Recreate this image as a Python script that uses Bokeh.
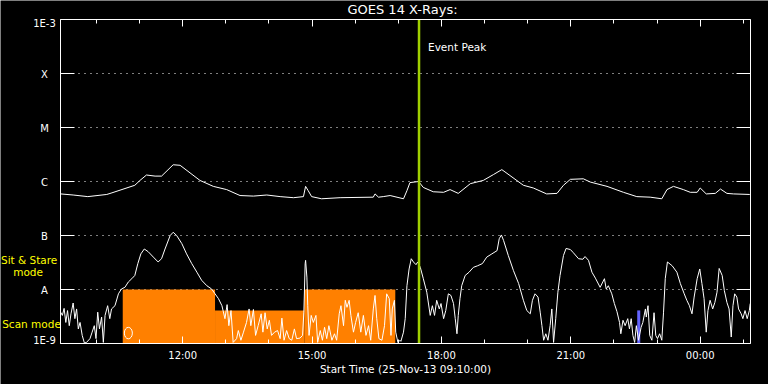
from bokeh.plotting import figure
from bokeh.models import Range1d, LogAxis, LinearAxis, FixedTicker, Label
from bokeh.core.properties import value
from bokeh.embed import file_html
from bokeh.resources import INLINE

# ---------------- data ----------------
start_hour = 9 + 10 / 60          # 25-Nov-13 09:10:00
end_hour = start_hour + 16

# long channel (1-8 A), hours of day and log10 flux (W/m^2)
long_hours = [9.17, 9.46, 9.80, 10.24, 10.36, 10.89, 11.01, 11.16, 11.36, 11.51,
              11.78, 11.94, 12.40, 12.71, 13.02, 13.33, 13.64, 13.95, 14.26, 14.57,
              14.80, 14.85, 14.91, 14.99, 15.22, 15.65, 16.42, 16.46, 16.54, 16.65,
              16.81, 17.12, 17.20, 17.27, 17.47, 17.58, 17.81, 18.05, 18.20, 18.39,
              18.67, 18.97, 19.21, 19.40, 19.59, 19.90, 20.13, 20.44, 20.68, 20.83,
              20.99, 21.29, 21.45, 21.84, 22.22, 22.53, 22.84, 23.11, 23.23, 23.38,
              23.61, 23.77, 23.93, 24.00, 24.14, 24.35, 24.47, 24.62, 24.77, 25.15]
long_log_flux = [-6.23, -6.25, -6.28, -6.24, -6.21, -6.07, -5.98, -5.88, -5.90, -5.90,
                 -5.69, -5.70, -5.98, -6.09, -6.15, -6.26, -6.27, -6.25, -6.28, -6.30,
                 -6.28, -6.09, -6.17, -6.28, -6.32, -6.30, -6.29, -6.23, -6.29, -6.28,
                 -6.26, -6.32, -6.17, -6.02, -6.00, -6.11, -6.19, -6.20, -6.15, -6.22,
                 -6.04, -5.98, -5.87, -5.78, -5.89, -6.07, -6.12, -6.23, -6.22, -6.07,
                 -5.96, -5.95, -6.01, -6.09, -6.20, -6.28, -6.29, -6.32, -6.15, -6.09,
                 -6.15, -6.20, -6.20, -6.12, -6.23, -6.22, -6.14, -6.22, -6.23, -6.24]

# short channel (0.5-4 A)
short_hours_a = [9.17, 9.21, 9.25, 9.29, 9.33, 9.37, 9.41, 9.46, 9.50, 9.54,
                 9.58, 9.62, 9.67, 9.72, 9.77, 9.85, 9.90, 9.95, 9.99, 10.03,
                 10.07, 10.12, 10.16, 10.20, 10.26, 10.31, 10.35, 10.43, 10.51, 10.58,
                 10.66, 10.74, 10.82, 10.89, 10.96, 11.03, 11.11, 11.20, 11.32, 11.43,
                 11.51, 11.59, 11.71, 11.78, 11.86, 11.98, 12.09, 12.21, 12.33, 12.44,
                 12.56, 12.67, 12.75, 12.83, 12.91, 12.98]
short_log_a = [-8.42, -8.48, -8.35, -8.61, -8.39, -8.67, -8.45, -8.25, -8.54, -8.36,
               -8.73, -8.61, -8.85, -8.99, -8.98, -8.91, -8.79, -8.67, -8.91, -8.42,
               -8.73, -8.51, -8.98, -8.48, -8.30, -8.54, -8.36, -8.30, -8.08, -7.99,
               -7.96, -7.86, -7.80, -7.74, -7.52, -7.34, -7.25, -7.30, -7.40, -7.49,
               -7.43, -7.25, -7.00, -6.94, -7.00, -7.15, -7.34, -7.52, -7.68, -7.83,
               -7.93, -7.99, -8.08, -8.17, -8.30, -8.54]
short_hours_b = [13.03, 13.07, 13.12, 13.17, 13.25, 13.29, 13.35, 13.41, 13.48, 13.54,
                 13.58, 13.64, 13.69, 13.75, 13.82, 13.86, 13.91, 13.96, 14.01, 14.06,
                 14.13, 14.20, 14.26, 14.30, 14.35, 14.41, 14.47, 14.53, 14.59, 14.64,
                 14.72, 14.78, 14.81, 14.84, 14.85, 14.88, 14.90, 14.93, 14.98, 15.03,
                 15.09, 15.13, 15.19, 15.24, 15.29, 15.34, 15.39, 15.46, 15.52, 15.57,
                 15.63, 15.67, 15.73, 15.77, 15.81, 15.86, 15.90, 15.96, 16.01, 16.07,
                 16.13, 16.19, 16.25, 16.31, 16.36, 16.42, 16.46, 16.50, 16.55, 16.62,
                 16.68, 16.73, 16.79, 16.83, 16.86, 16.91, 16.94, 16.99, 17.04]
short_log_b = [-8.28, -8.67, -8.39, -8.98, -8.91, -8.76, -8.94, -8.79, -8.61, -8.36,
               -8.67, -8.37, -8.85, -8.67, -8.45, -8.79, -8.43, -8.73, -8.57, -8.85,
               -8.79, -8.76, -8.91, -8.53, -8.94, -8.76, -8.91, -8.94, -8.73, -8.91,
               -8.90, -8.85, -8.42, -7.52, -7.46, -7.77, -8.30, -8.85, -8.48, -8.61,
               -8.48, -8.98, -8.76, -8.94, -8.70, -8.91, -8.67, -8.94, -8.82, -8.94,
               -8.45, -8.30, -8.67, -8.20, -8.33, -8.20, -8.48, -8.79, -8.61, -8.43,
               -8.79, -8.48, -8.85, -8.67, -8.94, -8.36, -8.11, -8.54, -8.91, -8.94,
               -8.67, -8.08, -8.17, -8.85, -8.36, -8.20, -8.79, -8.98, -8.94]
short_hours_c = [17.06, 17.12, 17.16, 17.20, 17.25, 17.30, 17.35, 17.41, 17.45, 17.51,
                 17.58, 17.66, 17.74, 17.79, 17.84, 17.89, 17.95, 17.99, 18.05, 18.10,
                 18.16, 18.22, 18.28, 18.32, 18.36, 18.39, 18.43, 18.47, 18.55, 18.64,
                 18.74, 18.84, 18.95, 19.05, 19.17, 19.29, 19.34, 19.39, 19.44, 19.55,
                 19.67, 19.79, 19.90, 19.98, 20.06, 20.11, 20.17, 20.24, 20.29, 20.33,
                 20.37, 20.42, 20.47, 20.52, 20.56, 20.60, 20.65, 20.70, 20.75, 20.83,
                 20.89, 20.99]
short_log_c = [-8.96, -8.79, -8.54, -7.93, -7.62, -7.43, -7.49, -7.54, -7.49, -7.59,
               -7.80, -8.05, -8.48, -8.30, -8.48, -8.20, -8.36, -8.26, -8.54, -8.39,
               -8.08, -8.11, -8.26, -8.54, -8.82, -8.48, -8.17, -7.93, -7.74, -7.68,
               -7.59, -7.56, -7.52, -7.40, -7.34, -7.28, -7.06, -6.99, -7.09, -7.37,
               -7.65, -7.89, -8.20, -8.39, -8.45, -8.20, -8.08, -8.14, -8.42, -8.67,
               -8.94, -8.82, -8.94, -8.67, -8.36, -8.98, -8.54, -8.05, -7.74, -7.37,
               -7.24, -7.26]
short_hours_d = [21.06, 21.18, 21.28, 21.33, 21.41, 21.49, 21.57, 21.68, 21.78, 21.82,
                 21.87, 21.95, 22.01, 22.07, 22.13, 22.16, 22.21, 22.26, 22.32, 22.36,
                 22.40, 22.44, 22.48, 22.52, 22.57, 22.63, 22.67, 22.73, 22.75, 22.79,
                 22.83, 22.88, 22.93, 22.97, 23.01, 23.06, 23.11, 23.15, 23.19, 23.24,
                 23.35, 23.46, 23.54, 23.63, 23.69, 23.75, 23.81, 23.86, 23.93, 23.99,
                 24.04, 24.09, 24.14, 24.18, 24.23, 24.29, 24.34, 24.39, 24.44, 24.51,
                 24.56, 24.62, 24.67, 24.72, 24.76, 24.80, 24.85, 24.89, 24.95, 24.99,
                 25.04, 25.09, 25.14, 25.16]
short_log_d = [-7.32, -7.43, -7.44, -7.39, -7.46, -7.68, -7.79, -7.96, -7.80, -7.99,
               -7.93, -8.08, -8.26, -8.41, -8.61, -8.82, -8.57, -8.67, -8.54, -8.73,
               -8.54, -8.85, -8.98, -8.67, -8.94, -8.70, -8.61, -8.36, -8.51, -8.30,
               -8.85, -8.94, -8.43, -8.85, -8.91, -8.82, -8.94, -8.42, -7.80, -7.49,
               -7.56, -7.68, -7.89, -8.08, -8.20, -8.30, -8.45, -8.14, -7.80, -7.62,
               -7.89, -8.17, -8.79, -8.39, -8.20, -8.36, -8.24, -8.05, -7.61, -7.74,
               -8.02, -8.24, -8.36, -8.88, -8.30, -8.08, -8.14, -8.36, -8.45, -8.54,
               -8.39, -8.54, -8.39, -8.26]

# instrument mode periods (orange) and the blue marker
mode_start = [10.61, 12.75, 14.82]
mode_end = [12.75, 14.82, 16.93]
mode_level = [1e-8, 4.1e-9, 1e-8]
blue_start = [22.54]
blue_end = [22.61]
blue_level = [4.1e-9]
marker_hour = [10.74]
marker_flux = [1.56e-9]
event_peak_hour = 17.48

ytick_values = [1e-9, 1e-8, 1e-7, 1e-6, 1e-5, 1e-4, 1e-3]
ytick_labels = ["1E-9", "A", "B", "C", "M", "X", "1E-3"]
xtick_values = [12, 15, 18, 21, 24]
xtick_labels = ["12:00", "15:00", "18:00", "21:00", "00:00"]
xminor_values = [10, 11, 13, 14, 16, 17, 19, 20, 22, 23, 25]
mode_names = ["Sit & Stare", "mode", "Scan mode"]

title_text = "GOES 14 X-Rays:"
xlabel_text = "Start Time (25-Nov-13 09:10:00)"

# ---------------- layout constants ----------------
FONT = "DejaVu Sans"
W, H = 768, 384
LEFT, RIGHT, TOP, BOTTOM = 60, 18, 19, 41
y_lo, y_hi = 1e-9, 1e-3
px_per_hour = (W - LEFT - RIGHT) / (end_hour - start_hour)
px_per_decade = (H - TOP - BOTTOM) / 6.0
mid_hour = (start_hour + end_hour) / 2

# The frame covers the whole canvas so that the margin texts are drawn inside
# it; the plot box is drawn by four axes at fixed locations.
p = figure(width=W, height=H, output_backend="svg", toolbar_location=None,
           x_range=Range1d(start_hour - LEFT / px_per_hour, end_hour + RIGHT / px_per_hour),
           y_range=Range1d(y_lo / 10 ** (BOTTOM / px_per_decade),
                           y_hi * 10 ** (TOP / px_per_decade)),
           y_axis_type="log", min_border=0,
           background_fill_color="black", border_fill_color="black",
           outline_line_color=None)
p.title.visible = False

xticker = FixedTicker(ticks=xtick_values, minor_ticks=xminor_values)
yticker = FixedTicker(ticks=ytick_values, minor_ticks=[])


def style_axis(ax, ticker, tick_len, minor_len, values, labels=None):
    ax.ticker = ticker
    ax.axis_line_color = "white"
    ax.major_tick_line_color = "white"
    ax.minor_tick_line_color = "white"
    ax.major_tick_out = 0
    ax.minor_tick_out = 0
    ax.major_tick_in = tick_len
    ax.minor_tick_in = minor_len
    ax.major_label_text_color = "white"
    ax.major_label_text_font = FONT
    ax.major_label_text_font_size = "10px"
    if labels is None:
        ax.major_label_overrides = {v: "" for v in values}
        ax.major_label_standoff = 0
    else:
        ax.major_label_overrides = dict(zip(values, labels))


xb = p.xaxis[0]
style_axis(xb, xticker, 7, 4, xtick_values, xtick_labels)
xb.bounds = (start_hour, end_hour)
xb.fixed_location = y_lo
xb.major_label_standoff = 6

yl = p.yaxis[0]
style_axis(yl, yticker, 14, 0, ytick_values)
yl.bounds = (y_lo, y_hi)
yl.fixed_location = start_hour

xt = LinearAxis()
style_axis(xt, xticker, 7, 4, xtick_values)
xt.bounds = (start_hour, end_hour)
xt.fixed_location = y_hi
p.add_layout(xt, "above")

yr = LogAxis()
style_axis(yr, yticker, 14, 0, ytick_values)
yr.bounds = (y_lo, y_hi)
yr.fixed_location = end_hour
p.add_layout(yr, "right")

p.xgrid.visible = False
p.ygrid.ticker = yticker
p.ygrid.grid_line_color = "white"
p.ygrid.grid_line_dash = "1 5"
p.ygrid.grid_line_width = 1
try:
    p.ygrid.cross_bounds = (start_hour, end_hour)
except Exception:
    p.ygrid.visible = False
    p.segment(x0=[start_hour] * len(ytick_values), x1=[end_hour] * len(ytick_values),
              y0=ytick_values, y1=ytick_values, line_color="white", line_dash="1 5",
              line_width=1)

# mode shading
p.quad(left=mode_start, right=mode_end, bottom=[y_lo] * len(mode_start), top=mode_level,
       fill_color="#ff8000", line_color=None)
p.quad(left=blue_start, right=blue_end, bottom=[y_lo], top=blue_level,
       fill_color="#6464ff", line_color=None)
p.ellipse(x=marker_hour, y=marker_flux, width=8, height=11.5, width_units="screen",
          height_units="screen", fill_alpha=0, line_color="white", line_width=1)

long_flux = [10 ** v for v in long_log_flux]
short_hours = short_hours_a + short_hours_b + short_hours_c + short_hours_d
short_flux = [10 ** v for v in short_log_a + short_log_b + short_log_c + short_log_d]

p.line(long_hours, long_flux, line_color="white", line_width=1)
p.line(short_hours, short_flux, line_color="white", line_width=1)

# event peak marker
p.segment(x0=[event_peak_hour], x1=[event_peak_hour], y0=[y_lo], y1=[y_hi],
          line_color="#a0d000", line_width=2.5)
p.add_layout(Label(x=event_peak_hour, y=y_hi, x_offset=9, y_offset=-27.7, text="Event Peak",
                   text_color="white", text_font=FONT, text_font_size="10.5px",
                   text_baseline="alphabetic"))

# title and x-axis caption
p.add_layout(Label(x=mid_hour, y=y_hi, x_offset=-3, y_offset=9.7, text=title_text,
                   text_color="white", text_font=FONT, text_font_size="13px",
                   text_align="center", text_baseline="middle"))
p.add_layout(Label(x=mid_hour, y=y_lo, y_offset=-25, text=xlabel_text,
                   text_color="white", text_font=FONT, text_font_size="10.5px",
                   text_align="center", text_baseline="middle"))

# ---------------- margin texts (tick names and mode names) ----------------
label_dy = {"1E-3": 3.5, "1E-9": -3.3}
p.text(x=[start_hour] * len(ytick_values), y=ytick_values, text=ytick_labels,
       x_offset=-16, y_offset=[label_dy.get(t, 1) for t in ytick_labels],
       text_color="white", text_font=value(FONT), text_font_size="10px",
       text_align="center", text_baseline="middle")

p.text(x=[start_hour] * 3, y=[y_lo * 10, y_lo * 10, y_lo], text=mode_names,
       x_offset=[-59.5, -47.3, -58.3], y_offset=[-30, -18, -19.5],
       text_color="#ffff00", text_font=value(FONT), text_font_size="10.5px",
       text_align="left", text_baseline="middle")

open("out.html", "w").write(file_html(p, INLINE))
